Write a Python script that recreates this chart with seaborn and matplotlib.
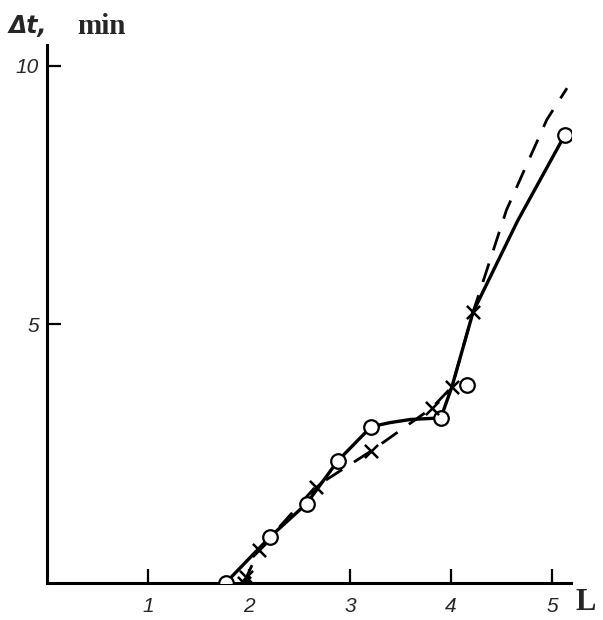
import numpy as np
import pandas as pd
import seaborn as sns
import matplotlib.pyplot as plt

# measured points (circles, solid curve)
circ_L = [1.77, 2.21, 2.57, 2.88, 3.21, 3.90, 4.16, 5.13]
circ_dt = [0.0, 0.89, 1.53, 2.36, 3.02, 3.19, 3.83, 8.67]

# measured points (crosses, dashed curve)
cross_L = [1.95, 1.97, 2.10, 2.66, 3.21, 3.81, 4.01, 4.22]
cross_dt = [0.0, 0.12, 0.64, 1.86, 2.55, 3.38, 3.79, 5.24]

# path of the solid curve
solid_L = [1.77, 2.21, 2.57, 2.88, 3.21, 3.40, 3.60, 3.90, 4.01, 4.22, 4.66, 5.13]
solid_dt = [0.0, 0.89, 1.53, 2.36, 3.02, 3.10, 3.16, 3.19, 3.79, 5.24, 7.0, 8.67]

# path of the dashed curve
dash_L = [1.95, 2.10, 2.66, 3.21, 3.81, 4.01, 4.22, 4.55, 4.95, 5.15]
dash_dt = [0.0, 0.64, 1.86, 2.55, 3.38, 3.79, 5.24, 7.21, 8.96, 9.57]

sns.set_style("white")
fig = plt.figure(figsize=(6.03, 6.20), dpi=100)
ax = fig.add_axes([0.078, 0.06, 0.869, 0.867])

sns.lineplot(x=solid_L, y=solid_dt, sort=False, color="black", lw=2.4, ax=ax)
sns.lineplot(x=dash_L, y=dash_dt, sort=False, color="black", lw=2.0, ax=ax)
ax.lines[-1].set_dashes([7, 5])
sns.scatterplot(x=circ_L, y=circ_dt, marker="o", s=110, facecolor="white",
                edgecolor="black", linewidth=1.6, zorder=5, ax=ax)
sns.scatterplot(x=cross_L, y=cross_dt, marker="x", s=90, color="black",
                linewidth=1.8, zorder=6, ax=ax)

ax.set_xlim(0, 5.19)
ax.set_ylim(0, 10.4)
ax.set_xticks([1, 2, 3, 4, 5])
ax.set_yticks([5, 10])
ax.set_xticklabels(["1", "2", "3", "4", "5"], fontstyle="italic", fontsize=15,
                   family="Liberation Sans")
ax.set_yticklabels(["5", "10"], fontstyle="italic", fontsize=15,
                   family="Liberation Sans")
ax.tick_params(axis="x", bottom=True, direction="in", length=10, width=1.6,
               pad=10, color="black")
ax.tick_params(axis="y", left=True, direction="in", length=10, width=1.6,
               pad=6, color="black")
sns.despine(ax=ax)
for s in ["left", "bottom"]:
    ax.spines[s].set_linewidth(2.2)
    ax.spines[s].set_color("black")

fig.text(0.015, 0.958, "\u0394t,", fontsize=17, fontstyle="italic",
         fontweight="bold", va="center", family="DejaVu Sans")
fig.text(0.128, 0.958, "min", fontsize=21, fontweight="bold", va="center",
         family="Liberation Serif")
fig.text(0.955, 0.028, "L", fontsize=22, fontweight="bold", va="center",
         family="Liberation Serif")

fig.savefig("out.png", dpi=100)
